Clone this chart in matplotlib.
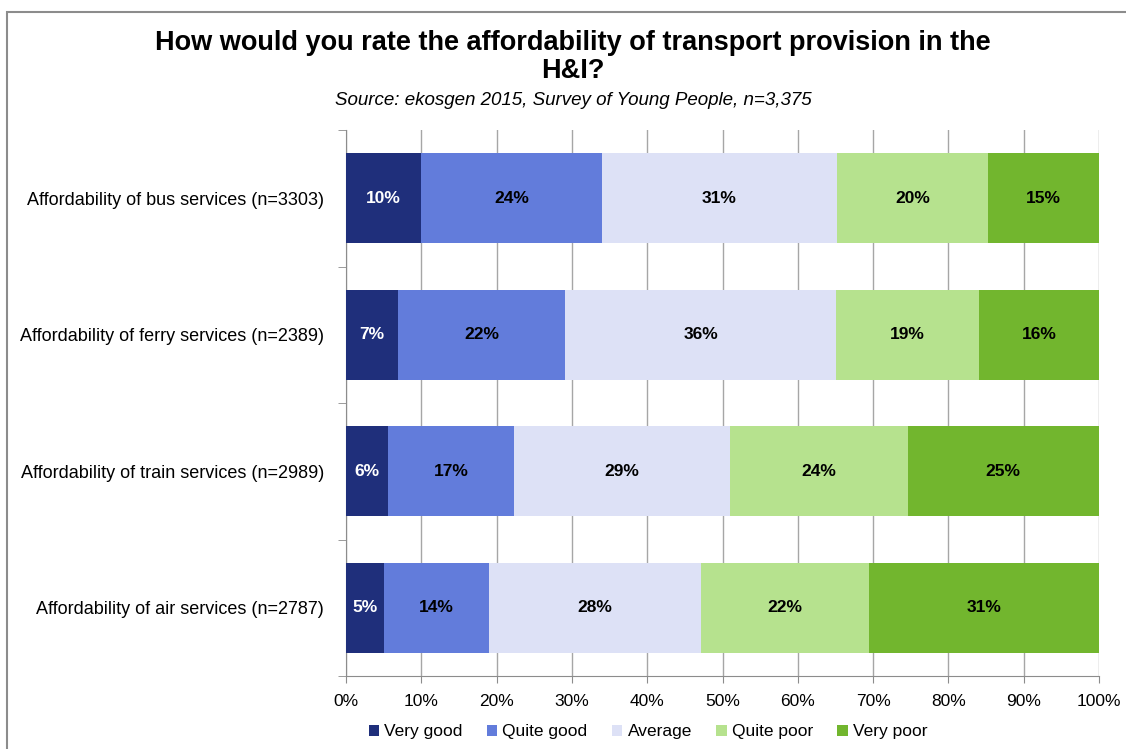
import matplotlib
matplotlib.use('Agg')
import matplotlib.pyplot as plt
import numpy as np
from matplotlib.patches import Rectangle

plt.rcParams['font.family'] = ['Liberation Sans', 'DejaVu Sans']

# survey responses, % of respondents per service
services = [
    'Affordability of bus services (n=3303)',
    'Affordability of ferry services (n=2389)',
    'Affordability of train services (n=2989)',
    'Affordability of air services (n=2787)',
]
ratings = ['Very good', 'Quite good', 'Average', 'Quite poor', 'Very poor']
very_good = [10.0, 6.9, 5.6, 5.0]
quite_good = [24.0, 22.2, 16.7, 14.0]
average = [31.2, 36.0, 28.7, 28.2]
quite_poor = [20.1, 19.0, 23.6, 22.2]
very_poor = [14.7, 15.9, 25.4, 30.6]

colors = ['#1f2f7b', '#627cdb', '#dde1f6', '#b6e28e', '#72b62e']
text_colors = ['white', 'black', 'black', 'black', 'black']

fig = plt.figure(figsize=(11.26, 7.49), dpi=100)
ax = fig.add_axes([346 / 1126, 73 / 749, 753 / 1126, 546 / 749])

# outer chart frame
fig.patches.append(Rectangle((7 / 1126, -0.01), 1.2, (749 - 12) / 749 + 0.01,
                             transform=fig.transFigure, fill=False,
                             edgecolor='#8c8c8c', linewidth=1.5))

y = np.arange(len(services))
left = np.zeros(len(services))
series = [very_good, quite_good, average, quite_poor, very_poor]
for vals, color, tcolor, name in zip(series, colors, text_colors, ratings):
    vals = np.array(vals)
    ax.barh(y, vals, left=left, height=0.66, color=color, label=name,
            zorder=3)
    for yi, l, v in zip(y, left, vals):
        ax.text(l + v / 2, yi, f'{v:.0f}%', ha='center', va='center',
                fontsize=12.5, fontweight='bold', color=tcolor, zorder=4)
    left += vals

ax.set_xlim(0, 100)
ax.set_ylim(3.5, -0.5)
ax.set_xticks(np.arange(0, 101, 10))
ax.set_xticklabels([f'{t}%' for t in range(0, 101, 10)], fontsize=12.5)
ax.set_yticks(y)
ax.set_yticklabels(services, fontsize=13)
ax.set_yticks(np.arange(-0.5, 4, 1), minor=True)
ax.tick_params(axis='y', which='major', length=0, pad=16)
ax.tick_params(axis='y', which='minor', length=6, color='#8c8c8c', direction='out')
ax.tick_params(axis='x', length=5, color='#8c8c8c', pad=8)
ax.grid(axis='x', color='#a6a6a6', linewidth=1, zorder=0)

for side in ['top', 'right']:
    ax.spines[side].set_visible(False)
for side in ['left', 'bottom']:
    ax.spines[side].set_color('#8c8c8c')

fig.text(0.509, 0.96, 'How would you rate the affordability of transport provision in the\nH&I?',
         ha='center', va='top', fontsize=19.5, fontweight='bold', linespacing=1.08)
fig.text(0.509, 0.866, 'Source: ekosgen 2015, Survey of Young People, n=3,375',
         ha='center', va='center', fontsize=13.5, style='italic')

fig.legend(loc='center', bbox_to_anchor=(0.5755, 0.023), ncol=5, frameon=False,
           fontsize=12.5, handlelength=0.6, handleheight=0.6, handletextpad=0.3,
           columnspacing=1.4, borderaxespad=0)

fig.savefig('out.png', dpi=100, facecolor='white')
